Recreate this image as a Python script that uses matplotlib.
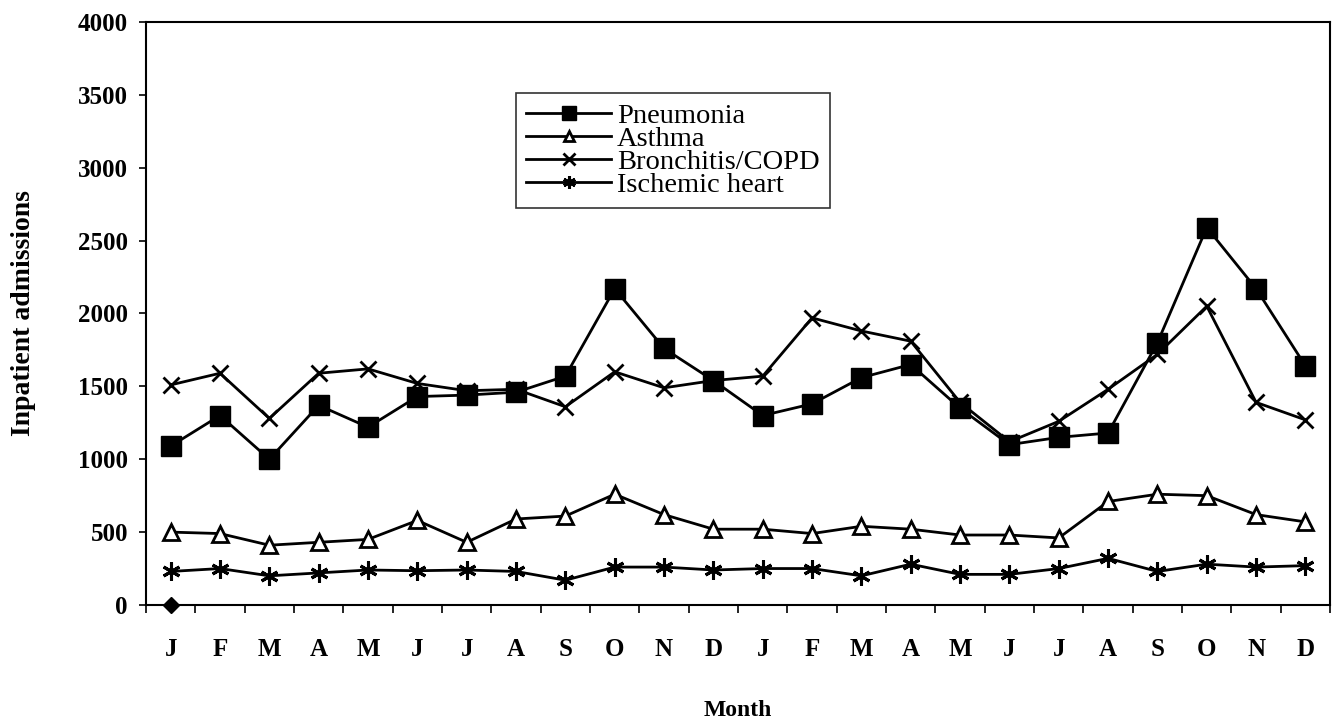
import matplotlib
matplotlib.use('Agg')
from matplotlib import pyplot as plt
import numpy as np

months = ['J', 'F', 'M', 'A', 'M', 'J', 'J', 'A', 'S', 'O', 'N', 'D'] * 2

pneumonia = [1090, 1300, 1000, 1370, 1220, 1430, 1440, 1460, 1570, 2170, 1760, 1540,
             1300, 1380, 1560, 1650, 1350, 1100, 1150, 1180, 1800, 2590, 2170, 1640]
asthma = [500, 490, 410, 430, 450, 580, 430, 590, 610, 760, 620, 520,
          520, 490, 540, 520, 480, 480, 460, 710, 760, 750, 620, 570]
bronchitis = [1510, 1590, 1280, 1590, 1620, 1520, 1470, 1480, 1360, 1600, 1490, 1540,
              1570, 1970, 1880, 1810, 1390, 1120, 1260, 1480, 1720, 2050, 1390, 1270]
ischemic = [230, 250, 200, 220, 240, 235, 240, 230, 170, 260, 260, 240,
            250, 250, 200, 280, 210, 210, 250, 320, 230, 280, 260, 270]
# stray point on the axis at the first month
extra = [0]

plt.rcParams['font.family'] = ['Liberation Serif', 'DejaVu Serif']

fig = plt.figure(figsize=(13.32, 7.24), dpi=100)
ax = fig.add_axes([0.1096, 0.1644, 0.889, 0.8052])

x = np.arange(len(months))
ax.plot(x, pneumonia, color='black', lw=2, marker='s', ms=15, label='Pneumonia')
ax.plot(x, asthma, color='black', lw=2, marker='^', ms=11, mfc='white', mew=2, label='Asthma')
ax.plot(x, bronchitis, color='black', lw=2, marker='x', ms=12, mew=2, label='Bronchitis/COPD')
ax.plot(x, ischemic, color='black', lw=2, marker=(6, 2, 0), ms=13, mew=2.2, label='Ischemic heart')
ax.plot(x[:len(extra)], extra, color='black', marker='D', ms=8, ls='none', clip_on=False)

ax.set_xlim(-0.5, len(months) - 0.5)
ax.set_ylim(0, 4000)
ax.set_yticks(np.arange(0, 4001, 500))
ax.tick_params(axis='y', labelsize=18, direction='out', length=5, width=1.2, pad=8)
for t in ax.get_yticklabels():
    t.set_fontweight('bold')

ax.set_xticks(np.arange(-0.5, len(months), 1))
ax.set_xticklabels([])
ax.set_xticks(x, minor=True)
ax.set_xticklabels(months, minor=True, fontsize=18, fontweight='bold')
ax.tick_params(axis='x', which='major', direction='out', length=6, width=1.2)
ax.tick_params(axis='x', which='minor', length=0, pad=24)

for s in ax.spines.values():
    s.set_linewidth(1.5)

ax.set_ylabel('Inpatient admissions', fontsize=20, fontweight='bold', labelpad=30)
ax.set_xlabel('Month', fontsize=17, fontweight='bold', labelpad=28)

leg = ax.legend(loc='upper left', bbox_to_anchor=(0.3125, 0.878), fontsize=20.5,
                frameon=True, fancybox=False, edgecolor='black', handlelength=3.0,
                handletextpad=0.2, labelspacing=-0.1, borderpad=0.35, borderaxespad=0,
                markerscale=0.7)
leg.get_frame().set_linewidth(1.2)

fig.savefig('out.png', dpi=100)
